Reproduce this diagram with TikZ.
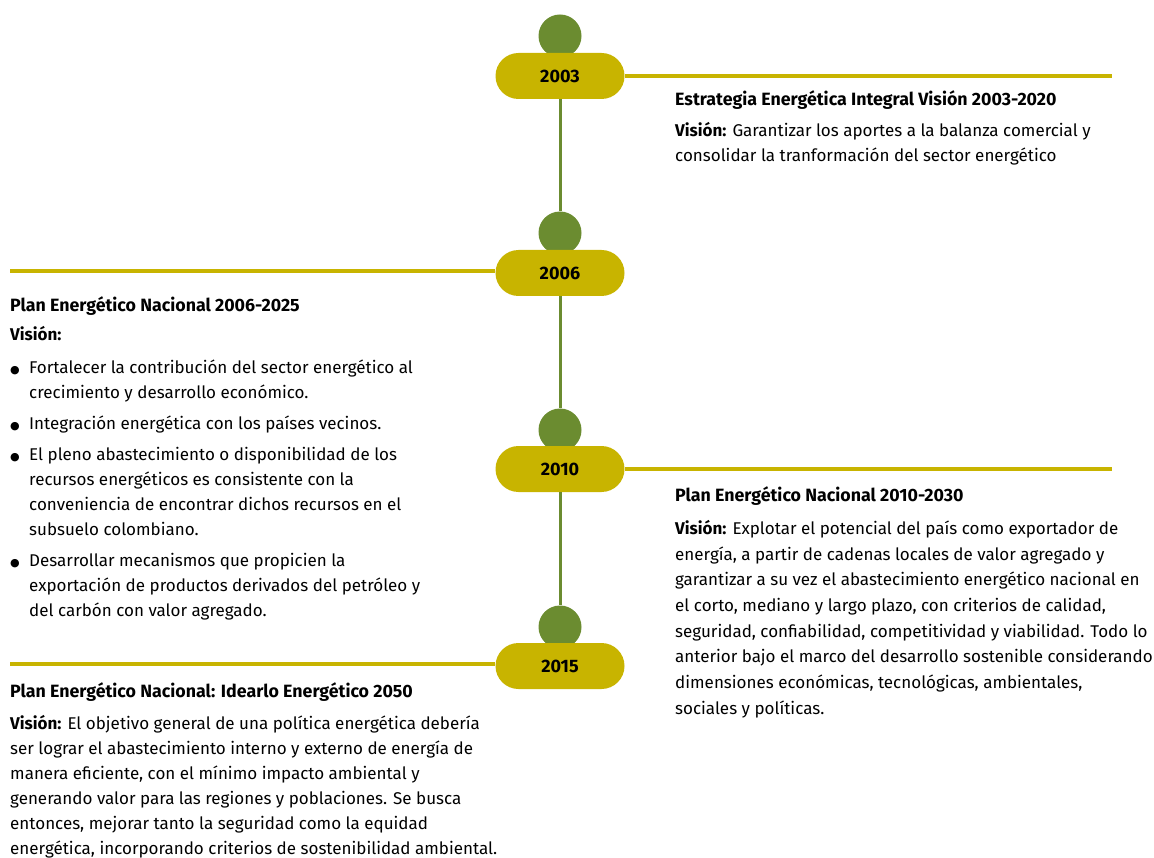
\documentclass[tikz,border=0pt]{standalone}
\usepackage{fontspec}
\setmainfont{Fira Sans}
\newfontfamily\symfont{DejaVu Sans}
\usetikzlibrary{positioning}
\definecolor{clrYear}{RGB}{200,180,0}
\definecolor{clrDot}{RGB}{107,140,48}
\newcommand{\vis}{\textbf{Visión:}}
\newcommand{\itm}[1]{\makebox[19pt][l]{\raisebox{0.3pt}{\symfont\fontsize{11}{11}\selectfont ●}}#1}
\newcommand{\cnt}{\hspace*{19pt}}

\begin{document}
\begin{tikzpicture}[x=1pt,y=-1pt,
  every node/.style={inner sep=0pt}]
  \tikzset{
    yeardot/.style={circle,fill=clrDot,minimum size=43pt},
    yearpill/.style={rectangle,rounded corners=23pt,fill=clrYear,
      minimum width=129pt,minimum height=46pt,
      font=\fontsize{18}{19}\selectfont\bfseries},
    spine/.style={line width=3pt,draw=clrDot},
    branch/.style={line width=4pt,draw=clrYear},
    plantitle/.style={anchor=west,font=\fontsize{17.8}{19}\selectfont\bfseries},
    planbody/.style={anchor=north west,align=left,
      font=\fontsize{17}{25}\selectfont}
  }
  \useasboundingbox (0,0) rectangle (1154,858);

  % dots and year pills
  \node[yeardot] (d2003) at (560,36) {};
  \node[yeardot] (d2006) at (560,233) {};
  \node[yeardot] (d2010) at (560,430) {};
  \node[yeardot] (d2015) at (560,627) {};
  \node[yearpill] (p2003) at (560,76) {2003};
  \node[yearpill] (p2006) at (560,273) {2006};
  \node[yearpill] (p2010) at (560,469) {2010};
  \node[yearpill] (p2015) at (560,666) {2015};

  % spine
  \draw[spine] (p2003.south) -- (d2006.north);
  \draw[spine] (p2006.south) -- (d2010.north);
  \draw[spine] (p2010.south) -- (d2015.north);

  % branches
  \coordinate (e2003) at (1112,76);
  \coordinate (e2006) at (10,271);
  \coordinate (e2010) at (1112,469);
  \coordinate (e2015) at (10,664);
  \draw[branch] (p2003.east) -- (e2003);
  \draw[branch] (e2006) -- (e2006 -| p2006.west);
  \draw[branch] (p2010.east) -- (e2010);
  \draw[branch] (e2015) -- (e2015 -| p2015.west);

  % 2003
  \node[plantitle] (t2003) at (675,100)
    {Estrategia Energética Integral Visión 2003-2020};
  \node[planbody] (b2003) at (675,122)
    {\vis{} Garantizar los aportes a la balanza comercial y\\
     consolidar la tranformación del sector energético};

  % 2006
  \node[plantitle] (t2006) at (10,306) {Plan Energético Nacional 2006-2025};
  \node[planbody] (b2006) at (10,326)
    {\vis\\[8pt]
     \itm{Fortalecer la contribución del sector energético al}\\
     \cnt crecimiento y desarrollo económico.\\[6pt]
     \itm{Integración energética con los países vecinos.}\\[6pt]
     \itm{El pleno abastecimiento o disponibilidad de los}\\
     \cnt recursos energéticos es consistente con la\\
     \cnt conveniencia de encontrar dichos recursos en el\\
     \cnt subsuelo colombiano.\\[6pt]
     \itm{Desarrollar mecanismos que propicien la}\\
     \cnt exportación de productos derivados del petróleo y\\
     \cnt del carbón con valor agregado.};

  % 2010
  \node[plantitle] (t2010) at (675,496) {Plan Energético Nacional 2010-2030};
  \node[planbody,font=\fontsize{17}{25.7}\selectfont] (b2010) at (675,520)
    {\vis{} Explotar el potencial del país como exportador de\\
     energía, a partir de cadenas locales de valor agregado y\\
     garantizar a su vez el abastecimiento energético nacional en\\
     el corto, mediano y largo plazo, con criterios de calidad,\\
     seguridad, confiabilidad, competitividad y viabilidad. Todo lo\\
     anterior bajo el marco del desarrollo sostenible considerando\\
     dimensiones económicas, tecnológicas, ambientales,\\
     sociales y políticas.};

  % 2015
  \node[plantitle] (t2015) at (10,692)
    {Plan Energético Nacional: Idearlo Energético 2050};
  \node[planbody] (b2015) at (10,715)
    {\vis{} El objetivo general de una política energética debería\\
     ser lograr el abastecimiento interno y externo de energía de\\
     manera eficiente, con el mínimo impacto ambiental y\\
     generando valor para las regiones y poblaciones. Se busca\\
     entonces, mejorar tanto la seguridad como la equidad\\
     energética, incorporando criterios de sostenibilidad ambiental.};
\end{tikzpicture}
\end{document}
